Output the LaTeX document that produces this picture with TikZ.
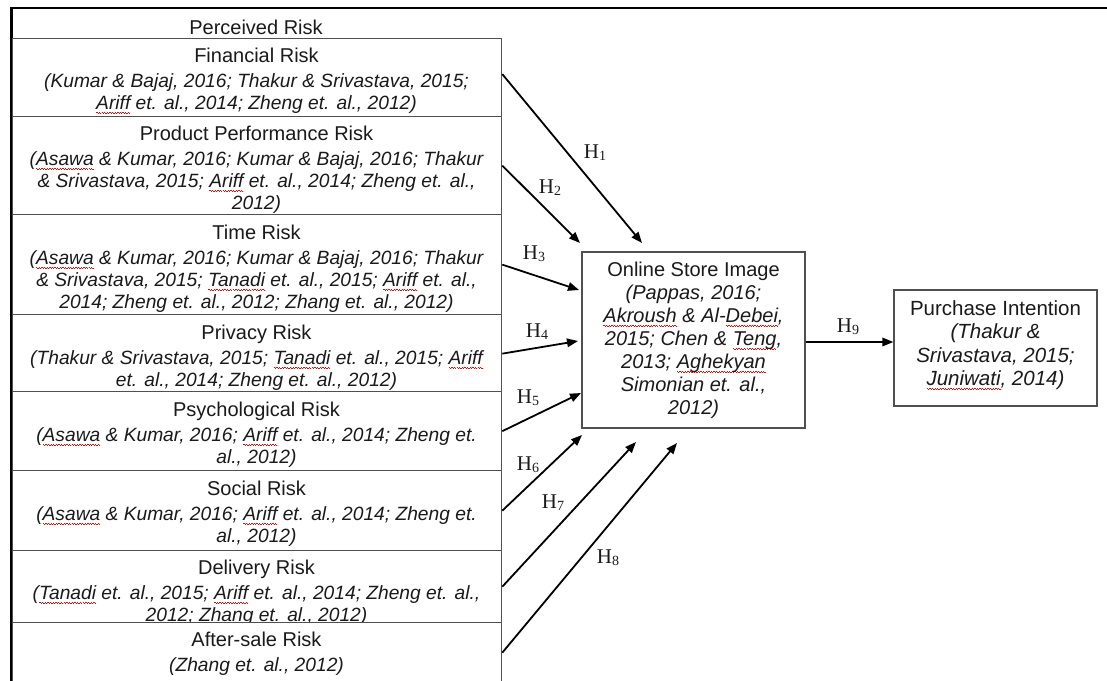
\documentclass[tikz,border=0pt]{standalone}
\usepackage{fontspec}
\setmainfont{Liberation Sans}
\newfontfamily\timesf{Liberation Serif}
\usetikzlibrary{arrows.meta,calc}
\newsavebox\sqbox
\newcommand\sq[1]{\sbox\sqbox{#1}\rlap{\textcolor{red}{\raisebox{-4.5pt}{\hbox to \wd\sqbox{\xleaders\hbox to 2.6pt{\raisebox{0.7pt}{\rule{1.3pt}{0.9pt}}\rule{1.3pt}{0.9pt}}\hfill}}}}#1}
\newcommand\hyp[1]{{\timesf H\raisebox{-2pt}{\fontsize{14}{14}\selectfont #1}}}
\newcommand\cit[1]{{\fontsize{19.2}{22}\selectfont\itshape #1}}
\definecolor{boxgray}{HTML}{505050}
\definecolor{txt}{HTML}{1A1A1A}
\tikzset{
  riskbox/.style={draw=boxgray, line width=1.3pt, fill=white, inner sep=0pt,
    anchor=north west, minimum width=489pt},
  risktext/.style={anchor=north, align=center, inner sep=0pt, text=txt,
    font=\fontsize{20}{22}\selectfont},
  mainbox/.style={draw=boxgray, line width=1.3pt, fill=white, inner sep=0pt,
    align=center, text=txt, font=\fontsize{20}{23}\selectfont},
  hyparrow/.style={line width=1.8pt, -{Triangle[length=11pt,width=8.5pt]}},
  hyplabel/.style={inner sep=0pt, font=\fontsize{21}{21}\selectfont, text=txt}
}
\begin{document}
\begin{tikzpicture}[x=1pt,y=-1pt]
\clip (0,0) rectangle (1107,680);
\fill[white] (0,0) rectangle (1107,680);

% outer frame
\draw[line width=2.5pt] (11.3,690) -- (11.3,8) -- (1110,8);
\node[risktext, anchor=center] (title) at (256,27) {Perceived Risk};

% risk boxes
\node[riskbox, minimum height=79pt] (r1) at (12,38) {};
\node[risktext] (t1) at (256.5,48) {Financial Risk\\[2.5pt]
  \cit{(Kumar \& Bajaj, 2016; Thakur \& Srivastava, 2015;}\\
  \cit{\sq{Ariff} et. al., 2014; Zheng et. al., 2012)}};

\node[riskbox, minimum height=98pt] (r2) at (12,116) {};
\node[risktext] (t2) at (256.5,126) {Product Performance Risk\\[2.5pt]
  \cit{(\sq{Asawa} \& Kumar, 2016; Kumar \& Bajaj, 2016; Thakur}\\
  \cit{\& Srivastava, 2015; \sq{Ariff} et. al., 2014; Zheng et. al.,}\\
  \cit{2012)}};

\node[riskbox, minimum height=100pt] (r3) at (12,214) {};
\node[risktext] (t3) at (256.5,225) {Time Risk\\[2.5pt]
  \cit{(\sq{Asawa} \& Kumar, 2016; Kumar \& Bajaj, 2016; Thakur}\\
  \cit{\& Srivastava, 2015; \sq{Tanadi} et. al., 2015; \sq{Ariff} et. al.,}\\
  \cit{2014; Zheng et. al., 2012; Zhang et. al., 2012)}};

\node[riskbox, minimum height=78pt] (r4) at (12,314) {};
\node[risktext] (t4) at (256.5,325) {Privacy Risk\\[2.5pt]
  \cit{(Thakur \& Srivastava, 2015; \sq{Tanadi} et. al., 2015; \sq{Ariff}}\\
  \cit{et. al., 2014; Zheng et. al., 2012)}};

\node[riskbox, minimum height=79pt] (r5) at (12,391) {};
\node[risktext] (t5) at (256.5,402) {Psychological Risk\\[2.5pt]
  \cit{(\sq{Asawa} \& Kumar, 2016; \sq{Ariff} et. al., 2014; Zheng et.}\\
  \cit{al., 2012)}};

\node[riskbox, minimum height=80pt] (r6) at (12,470) {};
\node[risktext] (t6) at (256.5,481) {Social Risk\\[2.5pt]
  \cit{(\sq{Asawa} \& Kumar, 2016; \sq{Ariff} et. al., 2014; Zheng et.}\\
  \cit{al., 2012)}};

\node[riskbox, minimum height=72pt] (r7) at (12,550) {};
\node[risktext] (t7) at (256.5,560) {Delivery Risk\\[2.5pt]
  \cit{(\sq{Tanadi} et. al., 2015; \sq{Ariff} et. al., 2014; Zheng et. al.,}\\
  \cit{2012; Zhang et. al., 2012)}};

\node[riskbox, minimum height=60pt] (r8) at (12,622) {};
\node[risktext] (t8) at (256.5,632) {After-sale Risk\\[2.5pt]
  \cit{(Zhang et. al., 2012)}};

% main boxes
\node[mainbox, minimum width=223pt, minimum height=176pt] (osi) at (693.5,340)
  {Online Store Image\\
   \textit{(Pappas, 2016;}\\
   \textit{\sq{Akroush} \& Al-\sq{Debei},}\\
   \textit{2015; Chen \& \sq{Teng},}\\
   \textit{2013; \sq{Aghekyan}}\\
   \textit{Simonian et. al.,}\\
   \textit{2012)}};
\node[mainbox, minimum width=203pt, minimum height=116pt] (pi) at (995.5,348) {};
\node[risktext, align=center, font=\fontsize{20.5}{23.5}\selectfont] (pit) at (995.5,300)
  {Purchase Intention\\
   \textit{(Thakur \&}\\
   \textit{Srivastava, 2015;}\\
   \textit{\sq{Juniwati}, 2014)}};

% arrow end points
\coordinate (e1) at (642,243);
\coordinate (e2) at (580,243);
\coordinate (e3) at (579,290);
\coordinate (e4) at (578,341);
\coordinate (e5) at (581,393);
\coordinate (e6) at (582,435);
\coordinate (e7) at (636,442);
\coordinate (e8) at (677,443);

\draw[hyparrow] ([yshift=4pt]r1.east) -- (e1);
\draw[hyparrow] (r2.east) -- (e2);
\draw[hyparrow] (r3.east) -- (e3);
\draw[hyparrow] (r4.east) -- (e4);
\draw[hyparrow] (r5.east) -- (e5);
\draw[hyparrow] (r6.east) -- (e6);
\draw[hyparrow] (r7.east) -- (e7);
\draw[hyparrow] (r8.east) -- (e8);
\draw[hyparrow] ([yshift=-2pt]osi.east) -- ([yshift=-2pt]osi.east -| pi.west);

% labels
\node[hyplabel] (h1) at (595,153) {\hyp{1}};
\node[hyplabel] (h2) at (550,188) {\hyp{2}};
\node[hyplabel] (h3) at (534,254) {\hyp{3}};
\node[hyplabel] (h4) at (537,332) {\hyp{4}};
\node[hyplabel] (h5) at (528,398) {\hyp{5}};
\node[hyplabel] (h6) at (528,465) {\hyp{6}};
\node[hyplabel] (h7) at (553,503) {\hyp{7}};
\node[hyplabel] (h8) at (608,558) {\hyp{8}};
\node[hyplabel] (h9) at (848,327) {\hyp{9}};
\end{tikzpicture}
\end{document}
